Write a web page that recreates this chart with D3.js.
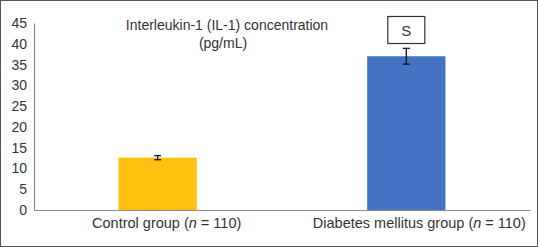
<!DOCTYPE html>
<html>
<head>
<meta charset="utf-8">
<script src="https://cdn.jsdelivr.net/npm/d3@7"></script>
<style>
  html, body { margin: 0; padding: 0; background: #fff; }
  svg { display: block; font-family: "Liberation Sans", Arial, sans-serif; }
</style>
</head>
<body>
<div id="chart"></div>
<script>
const categories = ['Control group', 'Diabetes mellitus group'];
const sampleSizes = [110, 110];
const meanValues = [12.6, 37.0];
const errorValues = [0.5, 1.9];
const barColors = ['#ffc00f', '#4472c4'];
const yTicks = [0, 5, 10, 15, 20, 25, 30, 35, 40, 45];
const titleLines = ['Interleukin-1 (IL-1) concentration', '(pg/mL)'];
const markText = 'S';

const width = 538;
const height = 247;
const margin = { top: 23, right: 8, bottom: 37, left: 34 };

const svg = d3.select('#chart')
  .append('svg')
  .attr('width', width)
  .attr('height', height);

// outer frame
svg.append('rect')
  .attr('x', 0.5).attr('y', 0.5)
  .attr('width', width - 1).attr('height', height - 1)
  .attr('fill', '#fff')
  .attr('stroke', '#555');

const x = d3.scaleBand()
  .domain(categories)
  .range([margin.left, width - margin.right])
  .paddingInner(0.685)
  .paddingOuter(0.34);

const y = d3.scaleLinear()
  .domain([0, 45])
  .range([height - margin.bottom, margin.top]);

// bars
svg.selectAll('.bar')
  .data(categories)
  .enter()
  .append('rect')
  .attr('class', 'bar')
  .attr('x', (d) => x(d))
  .attr('y', (d, i) => y(meanValues[i]))
  .attr('width', x.bandwidth())
  .attr('height', (d, i) => y(0) - y(meanValues[i]))
  .attr('fill', (d, i) => barColors[i]);

// error bars
const err = svg.selectAll('.err')
  .data(categories)
  .enter()
  .append('g')
  .attr('class', 'err')
  .attr('stroke', '#111')
  .attr('stroke-width', 1.3);
err.append('line')
  .attr('x1', (d) => x(d) + x.bandwidth() / 2)
  .attr('x2', (d) => x(d) + x.bandwidth() / 2)
  .attr('y1', (d, i) => y(meanValues[i] + errorValues[i]))
  .attr('y2', (d, i) => y(meanValues[i] - errorValues[i]));
[1, -1].forEach((s) => {
  err.append('line')
    .attr('x1', (d) => x(d) + x.bandwidth() / 2 - 3.5)
    .attr('x2', (d) => x(d) + x.bandwidth() / 2 + 3.5)
    .attr('y1', (d, i) => y(meanValues[i] + s * errorValues[i]))
    .attr('y2', (d, i) => y(meanValues[i] + s * errorValues[i]));
});

// y axis
const yAxis = svg.append('g')
  .attr('transform', `translate(${margin.left},0)`)
  .call(d3.axisLeft(y).tickValues(yTicks).tickSize(0).tickPadding(7));
yAxis.select('.domain').attr('stroke', '#8c8c8c').attr('stroke-width', 1.2);
yAxis.selectAll('text')
  .attr('fill', '#333')
  .style('font-size', '14px')
  .style('font-family', '"Liberation Sans", Arial, sans-serif');

// x axis
const xAxis = svg.append('g')
  .attr('transform', `translate(0,${y(0)})`)
  .call(d3.axisBottom(x).tickSize(0).tickSizeOuter(0).tickFormat(''));
xAxis.select('.domain').attr('stroke', '#8c8c8c').attr('stroke-width', 1.2);

// category labels with italic n
categories.forEach((c, i) => {
  const t = svg.append('text')
    .attr('x', x(c) + x.bandwidth() / 2 + (i === 1 ? 13 : 9))
    .attr('y', y(0) + 18)
    .attr('text-anchor', 'middle')
    .attr('fill', '#333')
    .style('font-size', '14.5px');
  t.append('tspan').text(`${c} (`);
  t.append('tspan').attr('font-style', 'italic').text('n');
  t.append('tspan').text(` = ${sampleSizes[i]})`);
});

// title
svg.append('text')
  .attr('y', 30)
  .attr('text-anchor', 'middle')
  .attr('fill', '#333')
  .style('font-size', '14px')
  .selectAll('tspan')
  .data(titleLines)
  .enter()
  .append('tspan')
  .attr('x', (d, i) => (i === 0 ? 227 : 223))
  .attr('dy', (d, i) => (i === 0 ? 0 : 18))
  .text((d) => d);

// significance box above diabetes bar
const cx = x(categories[1]) + x.bandwidth() / 2;
svg.append('rect')
  .attr('x', cx - 18.5)
  .attr('y', 16.5)
  .attr('width', 37)
  .attr('height', 27)
  .attr('fill', '#fff')
  .attr('stroke', '#333')
  .attr('stroke-width', 1.2);
svg.append('text')
  .attr('x', cx)
  .attr('y', 35.5)
  .attr('text-anchor', 'middle')
  .attr('fill', '#333')
  .style('font-size', '15px')
  .text(markText);
</script>
</body>
</html>
